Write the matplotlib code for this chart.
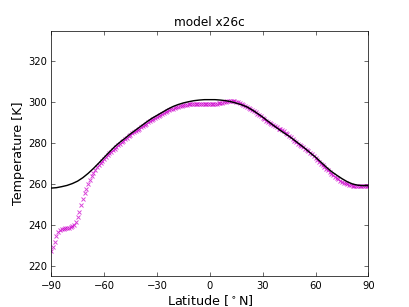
import numpy as np
import matplotlib
matplotlib.use("Agg")
import matplotlib.pyplot as plt

# model curve (black line), every 3 degrees
lat_model = list(range(-90, 91, 3))
temp_model = [258.1, 258.3, 258.8, 259.4, 260.3, 261.5, 263.2, 265.3, 267.7,
              270.3, 273.0, 275.7, 278.3, 280.5, 282.5, 284.6, 286.5, 288.4,
              290.3, 292.1, 293.6, 295.1, 296.6, 297.9, 298.9, 299.7, 300.3,
              300.8, 301.1, 301.3, 301.3, 301.3, 301.1, 300.8, 300.3, 299.6,
              298.8, 297.8, 296.3, 294.6, 292.8, 290.8, 288.8, 286.9, 285.1,
              283.4, 281.5, 279.5, 277.5, 275.3, 273.2, 270.8, 268.4, 266.2,
              264.4, 262.7, 261.2, 260.1, 259.5, 259.3, 259.3]

# observed values (magenta crosses), every degree
lat_obs = list(range(-90, 91))
temp_obs = [
    227.2, 229.5, 232.0, 234.5, 236.5, 237.6, 238.1, 238.3, 238.5, 238.6,  # -90..-81
    238.8, 239.0, 239.4, 240.2, 241.6, 243.8, 246.6, 249.7, 252.8, 255.5,  # -80..-71
    257.8, 260.0, 262.0, 263.8, 265.5, 267.0, 268.3, 269.4, 270.5, 271.5,  # -70..-61
    272.5, 273.4, 274.3, 275.1, 275.8, 276.6, 277.4, 278.2, 279.0, 279.8,  # -60..-51
    280.5, 281.3, 282.0, 282.7, 283.4, 284.1, 284.8, 285.4, 286.0, 286.6,  # -50..-41
    287.2, 287.8, 288.4, 289.0, 289.6, 290.2, 290.8, 291.4, 291.9, 292.4,  # -40..-31
    292.9, 293.4, 293.9, 294.4, 294.8, 295.3, 295.7, 296.1, 296.5, 296.9,  # -30..-21
    297.2, 297.5, 297.8, 298.1, 298.3, 298.5, 298.7, 298.9, 299.0, 299.1,  # -20..-11
    299.1, 299.2, 299.2, 299.3, 299.3, 299.3, 299.3, 299.3, 299.3, 299.3,  # -10..-1
    299.3, 299.3, 299.4, 299.4, 299.4, 299.5, 299.6, 299.8, 300.0, 300.3,  # 0..9
    300.5, 300.7, 300.8, 300.8, 300.6, 300.4, 300.1, 299.7, 299.3, 298.9,  # 10..19
    298.4, 297.9, 297.4, 296.9, 296.3, 295.8, 295.2, 294.5, 293.8, 293.1,  # 20..29
    292.4, 291.7, 291.0, 290.4, 289.8, 289.2, 288.7, 288.2, 287.7, 287.2,  # 30..39
    286.8, 286.3, 285.8, 285.1, 284.4, 283.7, 282.9, 282.1, 281.3, 280.5,  # 40..49
    279.8, 279.2, 278.6, 278.0, 277.4, 276.8, 276.2, 275.4, 274.6, 273.7,  # 50..59
    272.8, 271.9, 271.0, 270.1, 269.3, 268.4, 267.6, 266.7, 265.9, 265.1,  # 60..69
    264.4, 263.7, 263.0, 262.4, 261.8, 261.3, 260.8, 260.4, 260.0, 259.7,  # 70..79
    259.4, 259.2, 259.0, 258.9, 258.9, 258.9, 258.9, 258.9, 258.9, 258.9,  # 80..89
    259.0,                                                                 # 90
]

xticks = [-90, -60, -30, 0, 30, 60, 90]
yticks = [220, 240, 260, 280, 300, 320]

fig = plt.figure(figsize=(8, 6), dpi=51.17, facecolor="white")
ax = fig.add_axes([0.125, 0.1, 0.775, 0.8])

ax.plot(lat_obs, temp_obs, "x", color="#cc00cc", markersize=6.5, mew=1.3,
        alpha=0.75)
ax.plot(lat_model, temp_model, "-", color="k", linewidth=2)

ax.set_xlim(-90, 90)
ax.set_ylim(215, 335)
ax.set_xticks(xticks)
ax.set_yticks(yticks)
ax.set_xticklabels([str(t).replace("-", "\u2212") for t in xticks])
ax.tick_params(axis="both", which="major", direction="in", top=True,
               right=True, length=5, labelsize=14, pad=6)
for spine in ax.spines.values():
    spine.set_linewidth(1)

ax.set_xlabel(r"Latitude [$^\circ$N]", fontsize=18)
ax.set_ylabel("Temperature [K]", fontsize=18)
ax.set_title("model x26c", fontsize=17)

fig.savefig("out.png", dpi=51.17, facecolor="white")
